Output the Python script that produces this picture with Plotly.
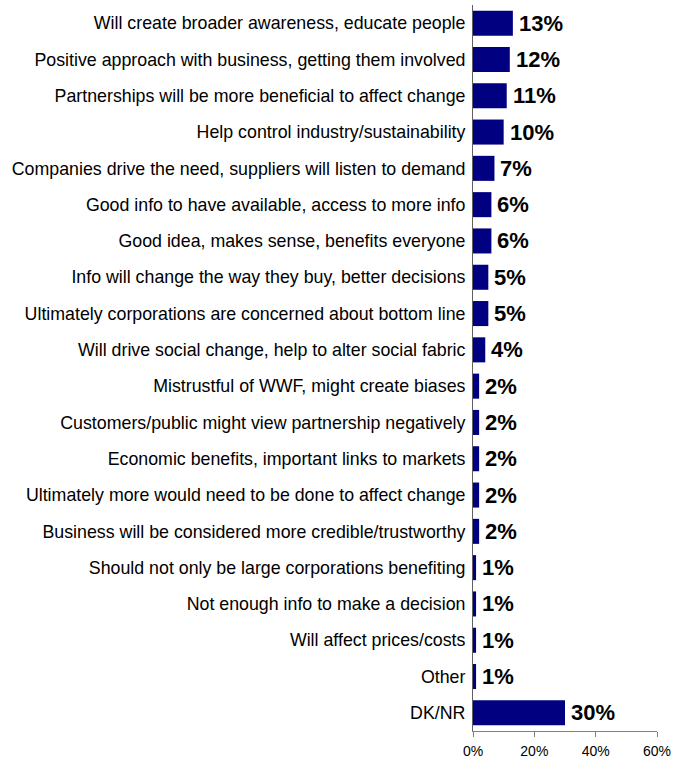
import plotly.graph_objects as go

# Survey responses (share of respondents, %)
categories = [
    "Will create broader awareness, educate people",
    "Positive approach with business, getting them involved",
    "Partnerships will be more beneficial to affect change",
    "Help control industry/sustainability",
    "Companies drive the need, suppliers will listen to demand",
    "Good info to have available, access to more info",
    "Good idea, makes sense, benefits everyone",
    "Info will change the way they buy, better decisions",
    "Ultimately corporations are concerned about bottom line",
    "Will drive social change, help to alter social fabric",
    "Mistrustful of WWF, might create biases",
    "Customers/public might view partnership negatively",
    "Economic benefits, important links to markets",
    "Ultimately more would need to be done to affect change",
    "Business will be considered more credible/trustworthy",
    "Should not only be large corporations benefiting",
    "Not enough info to make a decision",
    "Will affect prices/costs",
    "Other",
    "DK/NR",
]
values = [13, 12, 11, 10, 7, 6, 6, 5, 5, 4, 2, 2, 2, 2, 2, 1, 1, 1, 1, 30]
tick_values = [0, 20, 40, 60]
tick_labels = ["0%", "20%", "40%", "60%"]

FONT = "Liberation Sans, Arial, sans-serif"

fig = go.Figure(
    go.Bar(
        x=values,
        y=categories,
        orientation="h",
        marker=dict(color="#000080", line=dict(width=0)),
        hoverinfo="x+y",
    )
)

# Bold value labels just past the end of each bar
for cat, v in zip(categories, values):
    fig.add_annotation(
        x=v,
        y=cat,
        text=f"<b>{v}%</b>",
        showarrow=False,
        xanchor="left",
        yanchor="middle",
        xshift=4,
        font=dict(family=FONT, size=22, color="#000000"),
    )

fig.update_layout(
    width=673,
    height=759,
    margin=dict(l=473, r=16, t=5, b=28, autoexpand=False),
    paper_bgcolor="white",
    plot_bgcolor="white",
    bargap=0.31,
    showlegend=False,
    font=dict(family=FONT, color="#000000"),
)

fig.update_xaxes(
    range=[0, 60],
    tickvals=tick_values,
    ticktext=tick_labels,
    showgrid=False,
    zeroline=False,
    showline=True,
    linecolor="#808080",
    linewidth=1,
    ticks="outside",
    ticklen=5,
    tickcolor="#808080",
    tickfont=dict(family=FONT, size=14, color="#000000"),
    ticklabelstandoff=2,
    automargin=False,
    fixedrange=True,
)

fig.update_yaxes(
    autorange="reversed",
    showgrid=False,
    zeroline=False,
    showline=True,
    linecolor="#606060",
    linewidth=1,
    ticks="",
    tickfont=dict(family=FONT, size=17.8, color="#000000"),
    ticklabelstandoff=3,
    automargin=False,
    fixedrange=True,
)

fig.write_html("out.html")
